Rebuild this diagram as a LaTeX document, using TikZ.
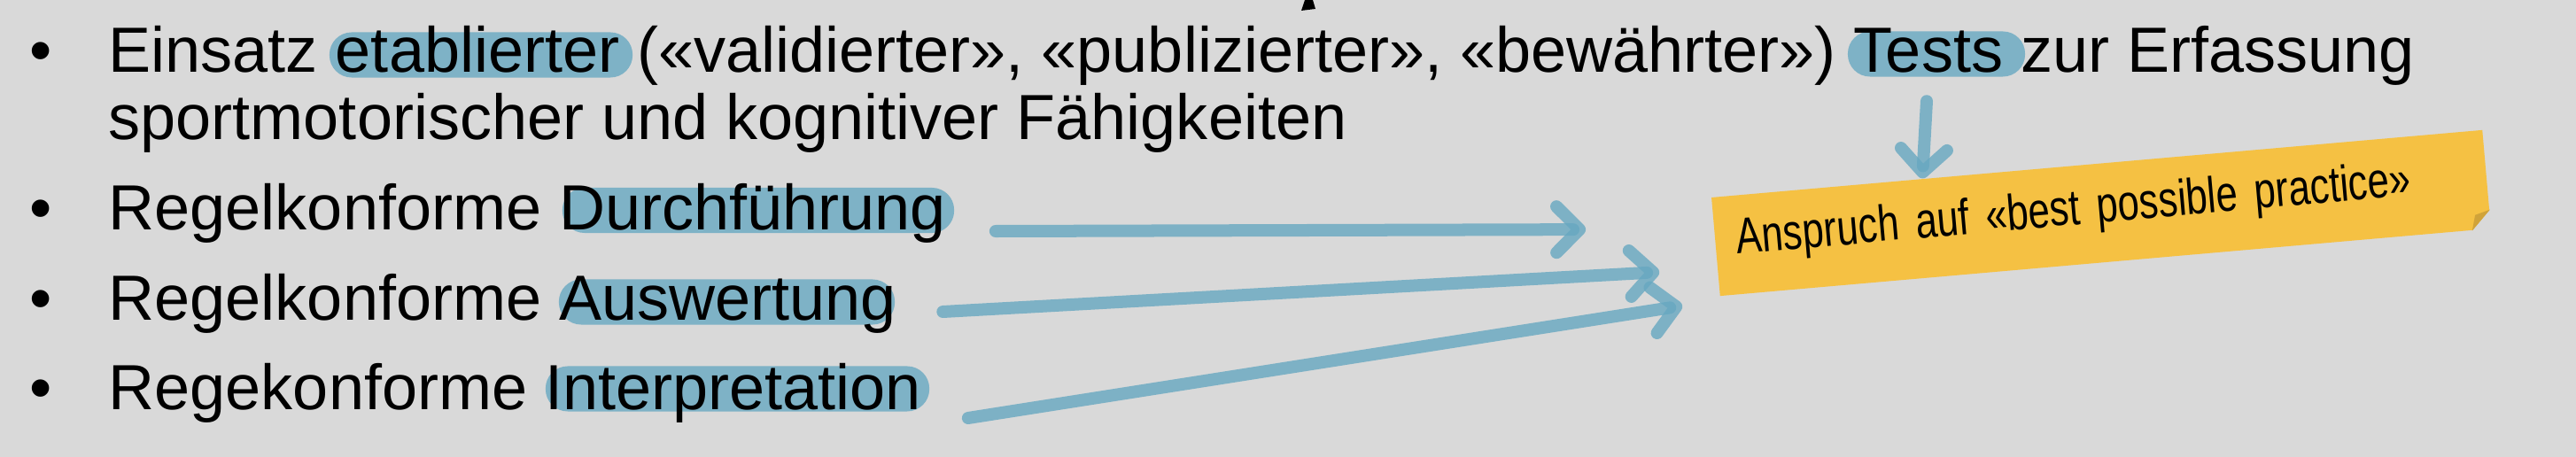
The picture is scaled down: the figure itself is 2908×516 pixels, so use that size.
\documentclass[tikz,border=0pt]{standalone}
\usepackage{fontspec}
\setmainfont{Liberation Sans}
\newfontfamily\notefont{Liberation Sans}[FakeStretch=0.765]
\usetikzlibrary{arrows.meta,calc}
\definecolor{bg_grey}{RGB}{217,217,217}
\definecolor{hl_blue}{RGB}{126,178,198}
\definecolor{arr_blue}{RGB}{103,168,193}
\definecolor{note_yellow}{RGB}{245,193,67}
\definecolor{note_fold}{RGB}{208,163,58}
\tikzstyle{tx}=[anchor=base west,inner sep=0pt,
  font=\fontsize{20.49pt}{24pt}\selectfont]
\tikzstyle{hl}=[rectangle,rounded corners=0.25cm,fill=hl_blue,
  inner sep=0pt,minimum height=0.51cm]
\tikzstyle{nt}=[rectangle,fill=note_yellow,rotate=5,inner xsep=0.24cm,
  inner ysep=0pt,text width=8.25cm,align=left,text height=0.6625cm,
  text depth=0.4525cm,font=\notefont\fontsize{16.2pt}{19pt}\selectfont]
\tikzstyle{arr}=[draw=arr_blue,draw opacity=0.8,line width=0.14cm,line cap=round,
  -{Straight Barb[length=0.26cm,width=0.52cm,round]}]

\begin{document}
\begin{tikzpicture}[x=0.01cm,y=-0.01cm]
            \useasboundingbox (0,0) rectangle (2908,516);
            \fill [bg_grey] (0,0) rectangle (2908,516);
            \fill (1473,0) -- (1482,0) -- (1485,10) -- (1469,12) -- cycle;
            \node [style=hl,minimum width=3.42cm] (0) at (543,62) {};
            \node [style=hl,minimum width=2.00cm] (1) at (2186,61) {};
            \node [style=hl,minimum width=4.42cm] (2) at (856,237.5) {};
            \node [style=hl,minimum width=3.79cm] (3) at (820.5,341) {};
            \node [style=hl,minimum width=4.33cm] (4) at (832.5,439) {};
            \node [style=tx] (5) at (33,82) {\textbullet};
            \node [style=tx] (6) at (122,82) {Einsatz etablierter («validierter», «publizierter», «bewährter») Tests zur Erfassung};
            \node [style=tx] (7) at (122,158) {sportmotorischer und kognitiver Fähigkeiten};
            \node [style=tx] (8) at (33,260) {\textbullet};
            \node [style=tx] (9) at (122,260) {Regelkonforme Durchführung};
            \node [style=tx] (10) at (33,362) {\textbullet};
            \node [style=tx] (11) at (122,362) {Regelkonforme Auswertung};
            \node [style=tx] (12) at (33,463) {\textbullet};
            \node [style=tx] (13) at (122,463) {Regekonforme Interpretation};
            \node [style=nt] (14) at (2372,240.5) {Anspruch auf «best possible practice»};
            \coordinate (15) at ($(14.south east)!0.22cm!(14.north east)$);
            \coordinate (16) at ($(14.south east)!0.22cm!(14.south west)$);
            \fill [bg_grey] (14.south east) -- (15) -- (16) -- cycle;
            \fill [note_fold] (15) -- (16) -- ($(15)!0.57!-30:(16)$) -- cycle;
            \draw [style=arr] ([xshift=-0.11cm,yshift=-0.27cm]1.south) to ($(14.north west)!0.274!(14.north east)$);
            \draw [style=arr] ([xshift=0.46cm,yshift=-0.235cm]2.east) to ([xshift=-1.46cm,yshift=0.195cm]14.west);
            \draw [style=arr] ([xshift=0.535cm,yshift=-0.11cm]3.east) to ([xshift=-0.63cm,yshift=-0.285cm]14.west);
            \draw [style=arr] ([xshift=0.43cm,yshift=-0.33cm]4.east) to ([xshift=-0.37cm,yshift=-0.665cm]14.west);
    \end{tikzpicture}
\end{document}
